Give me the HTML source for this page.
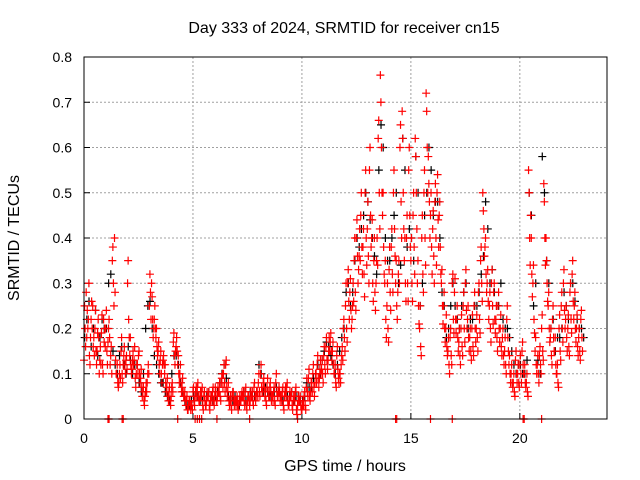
<!DOCTYPE html>
<html><head><meta charset="utf-8"><style>
html,body{margin:0;padding:0;background:#fff;}
svg{display:block;font-family:"Liberation Sans",sans-serif;}
</style></head><body>
<svg id="chart" width="640" height="480">
<rect x="0" y="0" width="640" height="480" fill="#fff"/>
<text x="344" y="33" font-size="16" text-anchor="middle">Day 333 of 2024, SRMTID for receiver cn15</text>
<text x="345" y="471" font-size="16" text-anchor="middle">GPS time / hours</text>
<text transform="translate(19,238) rotate(-90)" font-size="16" text-anchor="middle">SRMTID / TECUs</text>
<g id="grid"></g>
<g id="axes"></g>
<g id="black"></g>
<g id="red"></g>
<rect x="84" y="57" width="523" height="362" fill="none" stroke="#000" stroke-width="1"/>
</svg>
<script>
const xTicks=[0,5,10,15,20];
const yTicks=[0,0.1,0.2,0.3,0.4,0.5,0.6,0.7,0.8];
const yTickLabels=["0","0.1","0.2","0.3","0.4","0.5","0.6","0.7","0.8"];
const redStep=0.1;
const redA=[0.13,0.28,0.22,0.18,0.25,0.2,0.15,0.1,0.19,0.22,
0.2,0.17,0.12,0.35,0.4,0.1,0.08,0.15,0.12,0.1,
0.3,0.14,0.11,0.13,0.1,0.14,0.09,0.06,0.05,0.08,
0.25,0.3,0.2,0.18,0.15,0.13,0.12,0.1,0.07,0.06,
0.05,0.17,0.15,0.12,0.1,0.07,0.05,0.04,0.03,0.02,
0.06,0.05,0.07,0.04,0.06,0.05,0.03,0.05,0.04,0.06,
0.05,0.04,0.06,0.08,0.1,0.12,0.06,0.04,0.05,0.03,
0.04,0.03,0.04,0.05,0.06,0.04,0.03,0.05,0.07,0.05,
0.08,0.1,0.06,0.05,0.07,0.05,0.04,0.06,0.08,0.05,
0.04,0.06,0.05,0.07,0.03,0.05,0.04,0.06,0.03,0.04,
0.02,0.05,0.07,0.09,0.06,0.1,0.08,0.12,0.09,0.11,
0.14,0.16,0.13,0.17,0.15,0.1,0.14,0.08,0.12,0.2,
0.25,0.3,0.28,0.22,0.35,0.4,0.33,0.45,0.38,0.5,
0.42,0.55,0.4,0.35,0.3,0.62,0.76,0.45,0.3,0.25,
0.33,0.38,0.5,0.3,0.28,0.6,0.68,0.35,0.4,0.55,
0.35,0.45,0.62,0.3,0.2,0.4,0.5,0.72,0.58,0.45,
0.42,0.48,0.5,0.45,0.3,0.25,0.2,0.15,0.18,0.3,
0.28,0.22,0.17,0.2,0.25,0.3,0.22,0.18,0.2,0.25,
0.2,0.28,0.35,0.5,0.38,0.3,0.25,0.3,0.28,0.22,
0.25,0.2,0.18,0.15,0.22,0.12,0.1,0.08,0.13,0.1,
0.12,0.15,0.1,0.08,0.55,0.45,0.3,0.15,0.12,0.14,
0.2,0.52,0.4,0.25,0.18,0.22,0.15,0.1,0.2,0.25,
0.3,0.22,0.2,0.28,0.32,0.25,0.2,0.18,0.22];
const redB=[0.2,0.24,0.14,0.26,0.18,0.15,0.22,0.16,0.12,0.2,
0.15,0.22,0.16,0.3,0.13,0.08,0.12,0.1,0.16,0.14,
0.22,0.12,0.15,0.09,0.12,0.1,0.07,0.04,0.08,0.12,
0.28,0.22,0.25,0.16,0.12,0.1,0.14,0.08,0.05,0.04,
0.08,0.14,0.18,0.1,0.08,0.06,0.04,0.02,0.04,0.03,
0.04,0.07,0.05,0.06,0.03,0.04,0.06,0.03,0.05,0.04,
0.06,0.07,0.05,0.1,0.08,0.07,0.04,0.03,0.06,0.04,
0.03,0.05,0.06,0.04,0.03,0.05,0.06,0.04,0.05,0.06,
0.06,0.07,0.09,0.04,0.06,0.08,0.05,0.04,0.06,0.07,
0.05,0.03,0.07,0.04,0.06,0.03,0.05,0.02,0.05,0.03,
0.04,0.03,0.06,0.05,0.08,0.07,0.1,0.09,0.13,0.1,
0.12,0.13,0.18,0.15,0.12,0.08,0.11,0.1,0.16,0.18,
0.2,0.26,0.24,0.3,0.28,0.36,0.42,0.38,0.32,0.4,
0.36,0.45,0.3,0.28,0.4,0.5,0.6,0.38,0.22,0.2,
0.28,0.32,0.42,0.25,0.35,0.48,0.5,0.3,0.3,0.45,
0.3,0.38,0.5,0.25,0.16,0.32,0.4,0.6,0.48,0.38,
0.36,0.4,0.44,0.38,0.25,0.2,0.16,0.12,0.14,0.22,
0.22,0.18,0.14,0.16,0.2,0.24,0.18,0.15,0.16,0.2,
0.18,0.22,0.3,0.42,0.32,0.26,0.2,0.25,0.22,0.18,
0.2,0.16,0.14,0.12,0.18,0.1,0.08,0.06,0.1,0.08,
0.1,0.12,0.08,0.06,0.4,0.32,0.22,0.12,0.1,0.12,
0.15,0.4,0.3,0.2,0.14,0.18,0.12,0.08,0.15,0.2,
0.24,0.18,0.16,0.22,0.26,0.2,0.16,0.15,0.18];
const redC=[0.25,0.18,0.3,0.22,0.16,0.24,0.19,0.13,0.23,0.17,
0.24,0.2,0.14,0.38,0.28,0.12,0.1,0.18,0.14,0.13,
0.35,0.18,0.13,0.16,0.12,0.15,0.11,0.07,0.06,0.1,
0.32,0.27,0.22,0.2,0.17,0.15,0.13,0.12,0.09,0.07,
0.07,0.19,0.16,0.14,0.12,0.09,0.06,0.05,0.04,0.03,
0.07,0.06,0.08,0.05,0.07,0.06,0.04,0.06,0.05,0.07,
0.07,0.05,0.08,0.09,0.12,0.13,0.08,0.05,0.06,0.04,
0.05,0.04,0.05,0.06,0.07,0.05,0.04,0.06,0.08,0.06,
0.1,0.12,0.08,0.06,0.09,0.07,0.05,0.07,0.1,0.06,
0.05,0.07,0.06,0.08,0.04,0.06,0.05,0.07,0.04,0.05,
0.03,0.06,0.09,0.11,0.08,0.12,0.1,0.14,0.11,0.13,
0.16,0.18,0.15,0.19,0.17,0.12,0.16,0.1,0.14,0.22,
0.3,0.33,0.31,0.25,0.4,0.44,0.36,0.5,0.42,0.55,
0.48,0.6,0.44,0.4,0.35,0.66,0.7,0.5,0.35,0.3,
0.38,0.42,0.55,0.35,0.32,0.65,0.62,0.4,0.45,0.6,
0.4,0.5,0.58,0.35,0.25,0.45,0.55,0.68,0.52,0.5,
0.46,0.52,0.54,0.48,0.33,0.28,0.23,0.18,0.2,0.32,
0.31,0.25,0.2,0.23,0.28,0.33,0.25,0.2,0.23,0.28,
0.23,0.3,0.38,0.46,0.4,0.33,0.28,0.33,0.3,0.25,
0.28,0.23,0.2,0.18,0.25,0.14,0.12,0.1,0.15,0.12,
0.14,0.17,0.12,0.1,0.5,0.4,0.34,0.18,0.14,0.16,
0.23,0.48,0.35,0.28,0.2,0.25,0.18,0.12,0.23,0.28,
0.33,0.25,0.23,0.3,0.35,0.28,0.23,0.2,0.24];
const redD=[0.16,0.2,0.12,0.2,0.14,0.12,0.18,0.12,0.1,0.16,
0.12,0.18,0.1,0.25,0.1,0.07,0.09,0.08,0.12,0.11,
0.18,0.1,0.12,0.07,0.1,0.08,0.05,0.03,0.06,0.1,
0.22,0.18,0.2,0.14,0.1,0.08,0.12,0.06,0.04,0.03,
0.06,0.12,0.15,0.08,0.06,0.05,0.03,0.02,0.03,0.02,
0.03,0.05,0.04,0.05,0.02,0.03,0.05,0.02,0.04,0.03,
0.04,0.06,0.04,0.07,0.06,0.05,0.03,0.02,0.04,0.03,
0.02,0.04,0.05,0.03,0.02,0.04,0.05,0.03,0.04,0.05,
0.05,0.06,0.07,0.03,0.05,0.06,0.04,0.03,0.05,0.06,
0.04,0.02,0.05,0.03,0.05,0.02,0.04,0.01,0.04,0.02,
0.03,0.02,0.05,0.04,0.06,0.05,0.08,0.07,0.1,0.08,
0.1,0.11,0.15,0.13,0.1,0.07,0.09,0.08,0.13,0.15,
0.17,0.22,0.2,0.26,0.24,0.3,0.35,0.32,0.27,0.34,
0.3,0.38,0.26,0.24,0.34,0.42,0.5,0.32,0.18,0.17,
0.24,0.28,0.36,0.22,0.3,0.4,0.42,0.26,0.26,0.38,
0.26,0.32,0.42,0.21,0.14,0.28,0.34,0.5,0.4,0.32,
0.3,0.34,0.38,0.32,0.21,0.17,0.14,0.1,0.12,0.19,
0.19,0.15,0.12,0.14,0.17,0.2,0.15,0.13,0.14,0.17,
0.15,0.19,0.26,0.36,0.28,0.22,0.17,0.21,0.19,0.15,
0.17,0.14,0.12,0.1,0.15,0.08,0.07,0.05,0.08,0.07,
0.08,0.1,0.07,0.05,0.34,0.27,0.19,0.1,0.08,0.1,
0.13,0.34,0.26,0.17,0.12,0.15,0.1,0.07,0.13,0.17,
0.2,0.15,0.14,0.19,0.22,0.17,0.14,0.13,0.15];
const blackStep=0.2;
const blackVals=[0.18,0.26,0.2,0.14,0.22,0.2,0.32,0.12,0.14,0.12,
0.16,0.1,0.12,0.06,0.2,0.26,0.14,0.1,0.08,0.05,
0.1,0.14,0.08,0.04,0.03,0.05,0.05,0.04,0.05,0.05,
0.05,0.08,0.12,0.05,0.04,0.04,0.05,0.04,0.06,0.05,
0.12,0.06,0.06,0.05,0.07,0.05,0.06,0.05,0.04,0.05,
0.04,0.08,0.07,0.1,0.1,0.15,0.16,0.12,0.12,0.18,
0.28,0.25,0.35,0.38,0.45,0.48,0.4,0.32,0.65,0.4,
0.35,0.45,0.3,0.62,0.38,0.4,0.58,0.25,0.45,0.6,
0.45,0.48,0.28,0.18,0.25,0.25,0.2,0.28,0.2,0.22,
0.25,0.32,0.48,0.3,0.28,0.25,0.22,0.2,0.15,0.1,
0.12,0.1,0.5,0.25,0.13,0.58,0.35,0.2,0.15,0.18,
0.28,0.22,0.3,0.22,0.2];
const blackValsB=[0.22,0.16,0.24,0.18,0.2,0.3,0.15,0.1,0.16,0.1,
0.13,0.12,0.08,0.1,0.25,0.2,0.12,0.08,0.06,0.04,
0.14,0.12,0.06,0.03,0.04,0.06,0.04,0.05,0.06,0.04,
0.06,0.1,0.09,0.04,0.05,0.03,0.06,0.05,0.05,0.06,
0.1,0.07,0.05,0.06,0.06,0.04,0.05,0.06,0.05,0.04,
0.05,0.07,0.09,0.12,0.13,0.17,0.14,0.1,0.15,0.2,
0.3,0.28,0.4,0.42,0.5,0.44,0.36,0.55,0.6,0.35,
0.4,0.5,0.34,0.55,0.42,0.35,0.5,0.3,0.5,0.55,
0.48,0.4,0.25,0.2,0.3,0.22,0.25,0.3,0.22,0.25,
0.28,0.36,0.42,0.33,0.25,0.3,0.2,0.18,0.12,0.12,
0.1,0.13,0.45,0.3,0.1,0.5,0.3,0.22,0.18,0.2,
0.25,0.3,0.26,0.2,0.18];
const zeroHours=[1.1,1.15,1.75,1.8,4.3,5.1,5.2,5.3,5.4,6.1,7.6,9.8,14.3,14.35,15.9,16.9,20.15,20.2,21.0];

const X0=84,X1=607,Y0=419,Y1=57;
const xs=h=>X0+h/24*(X1-X0);
const ys=v=>Y0-v/0.8*(Y0-Y1);
const NS="http://www.w3.org/2000/svg";
function mk(tag,attrs,parent){const e=document.createElementNS(NS,tag);for(const k in attrs)e.setAttribute(k,attrs[k]);parent.appendChild(e);return e;}
const grid=document.getElementById('grid'),axes=document.getElementById('axes');
xTicks.forEach(t=>{
  const x=xs(t);
  if(t>0){const l=mk('line',{x1:x,y1:Y0,x2:x,y2:Y1,stroke:'#a0a0a0','stroke-dasharray':'2,2'},grid);
  
  }
  const tl=mk('text',{x:x,y:443,'font-size':14,'text-anchor':'middle'},axes);tl.textContent=t;
  
  
  const tk=mk('line',{x1:x,y1:Y0,x2:x,y2:Y0-6,stroke:'#000'},axes);
  
  
});
yTicks.forEach((t,i)=>{
  const y=ys(t);
  if(t>0&&t<0.8){const l=mk('line',{x1:X0,y1:y,x2:X1,y2:y,stroke:'#a0a0a0','stroke-dasharray':'2,2'},grid);
  
  }
  const tl=mk('text',{x:72,y:y+5,'font-size':14,'text-anchor':'end'},axes);tl.textContent=yTickLabels[i];
  
  
  const tk=mk('line',{x1:X0,y1:y,x2:X0+6,y2:y,stroke:'#000'},axes);
  
  
});
function plus(g,h,v,color,name){
  const x=xs(h),y=ys(v);
  const p=mk('path',{d:`M${x-4},${y}H${x+4}M${x},${y-4}V${y+4}`,stroke:color,'stroke-width':1.2,fill:'none'},g);
  
  
}
const bg=document.getElementById('black'),rg=document.getElementById('red');
blackVals.forEach((v,i)=>plus(bg,i*blackStep+0.03,v,'#000','black-point'));
blackValsB.forEach((v,i)=>plus(bg,i*blackStep+0.13,v,'#000','black-point'));
redA.forEach((v,i)=>plus(rg,i*redStep,v,'#f00','red-point'));
redB.forEach((v,i)=>plus(rg,i*redStep+0.05,v,'#f00','red-point'));
redC.forEach((v,i)=>plus(rg,i*redStep+0.025,v,'#f00','red-point'));
redD.forEach((v,i)=>plus(rg,i*redStep+0.075,v,'#f00','red-point'));
zeroHours.forEach(h=>plus(rg,h,0,'#f00','red-zero-point'));
</script>
</body></html>
